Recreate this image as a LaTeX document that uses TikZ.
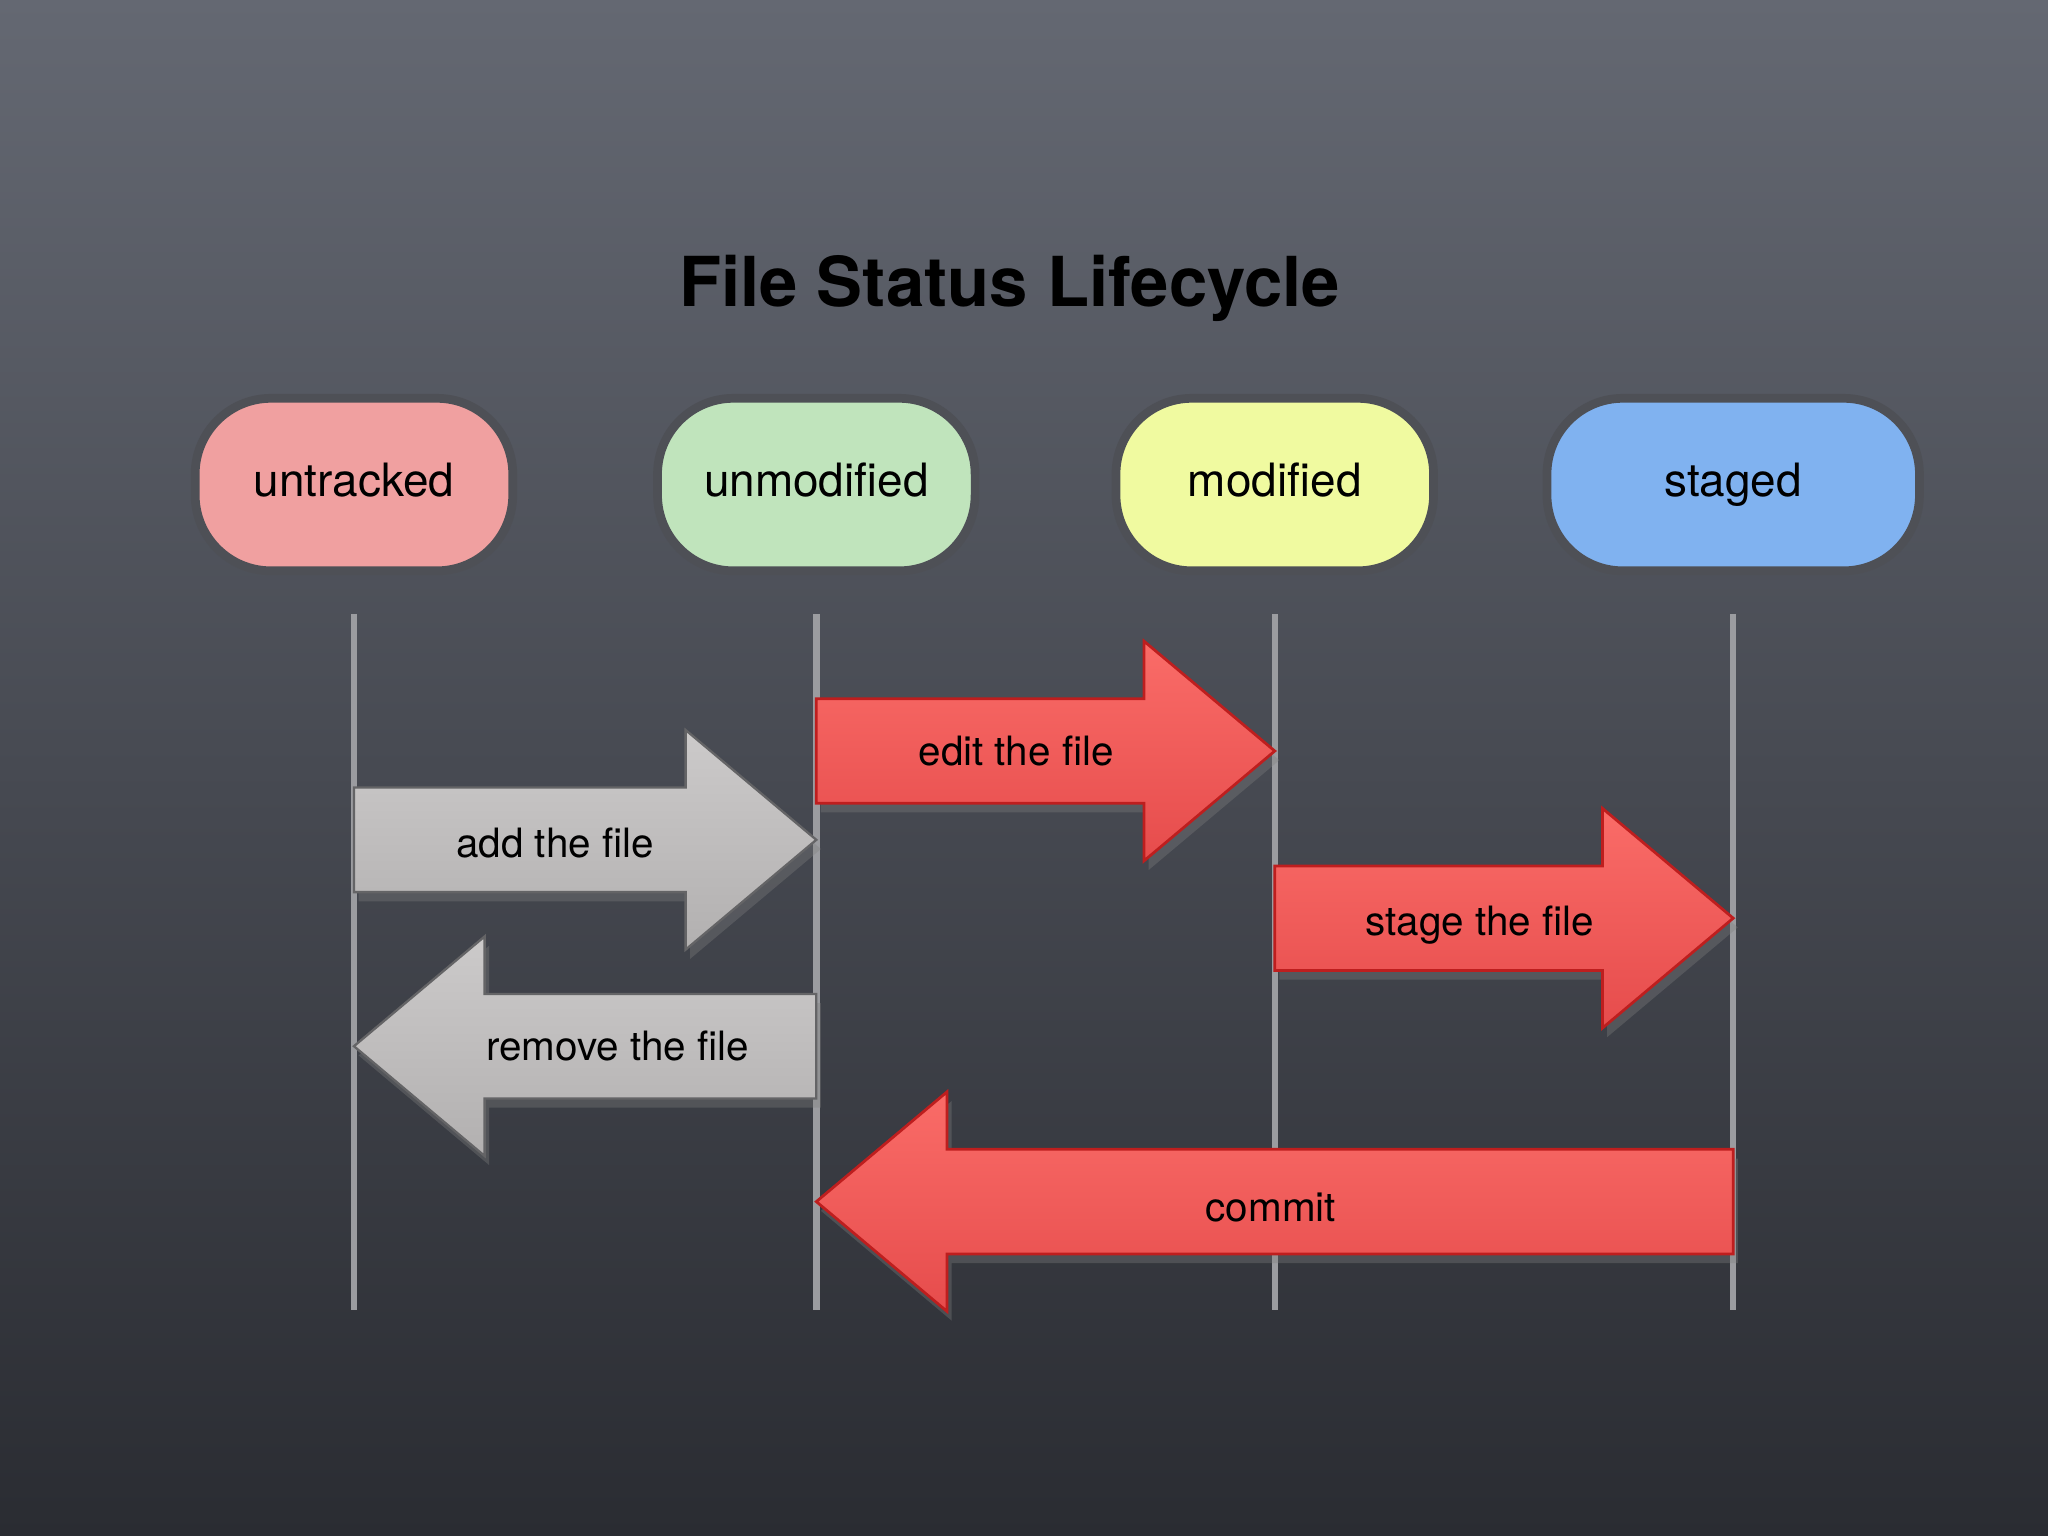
\documentclass[tikz,border=0pt]{standalone}
\usepackage{fontspec}
\setmainfont{TeX Gyre Heros}
\usetikzlibrary{calc,shadows}

\definecolor{boardtop}{RGB}{100,104,114}
\definecolor{boardmid}{RGB}{88,93,104}
\definecolor{boardbot}{RGB}{42,44,50}
\definecolor{statering}{RGB}{78,80,86}
\definecolor{untrackedcol}{RGB}{240,160,160}
\definecolor{unmodifiedcol}{RGB}{192,228,188}
\definecolor{modifiedcol}{RGB}{240,250,160}
\definecolor{stagedcol}{RGB}{128,178,240}
\definecolor{lifecol}{RGB}{155,156,160}
\definecolor{redtop}{RGB}{250,108,104}
\definecolor{redbot}{RGB}{230,76,76}
\definecolor{redline}{RGB}{190,30,30}
\definecolor{greytop}{RGB}{204,202,202}
\definecolor{greybot}{RGB}{178,176,176}
\definecolor{greyline}{RGB}{100,100,102}

\begin{document}
\begin{tikzpicture}[x=0.01cm, y=-0.01cm,
state/.style = {% the four file states
    draw=statering, line width=1.9pt, rounded corners=0.58cm,
    minimum width=2.43cm, minimum height=1.32cm,
    font=\fontsize{10pt}{12pt}\selectfont,
    text height=0.72em, text depth=0.2em,
            },
lifeline/.style = {draw=lifecol, line width=1.4pt},
fat/.style = {% block arrow from one lifeline to another
    to path={let \p1=(\tikztostart), \p2=(\tikztotarget),
                 \n1={sign(\x2-\x1)*1cm} in
      (\x1,\y1+0.4cm) -- (\x2-\n1,\y1+0.4cm) -- (\x2-\n1,\y1+0.84cm)
      -- (\x2,\y1) -- (\x2-\n1,\y1-0.84cm) -- (\x2-\n1,\y1-0.4cm)
      -- (\x1,\y1-0.4cm) -- cycle},
            },
redarrow/.style = {fat, draw=redline, line width=0.6pt,
    top color=redtop, bottom color=redbot,
    drop shadow={shadow xshift=1pt, shadow yshift=-2pt, opacity=0.35}},
greyarrow/.style = {fat, draw=greyline, line width=0.5pt,
    top color=greytop, bottom color=greybot,
    drop shadow={shadow xshift=1pt, shadow yshift=-2pt, opacity=0.35}},
lbl/.style = {% arrow labels
    font=\fontsize{8.8pt}{10pt}\selectfont,
    text height=0.72em, text depth=0.2em, inner sep=0pt,
            },
                        ]

  % chalkboard
  \shade[top color=boardtop, middle color=boardmid, bottom color=boardbot]
      (0,0) rectangle (1568,1176);

  \node[font=\fontsize{15pt}{18pt}\selectfont\bfseries, anchor=base]
      (title) at (773,235) {File Status Lifecycle};

  \node[state, fill=untrackedcol] (untracked) at (271,371) {untracked};
  \node[state, fill=unmodifiedcol] (unmodified) at (625,371) {unmodified};
  \node[state, fill=modifiedcol] (modified) at (976,371) {modified};
  \node[state, fill=stagedcol, minimum width=2.85cm] (staged) at (1327,371) {staged};

  \foreach \s in {untracked,unmodified,modified,staged}
    \draw[lifeline] (\s.south |- 0,470) -- (\s.south |- 0,1003);

  \draw[redarrow] (unmodified |- 0,575) to (modified |- 0,575);
  \draw[greyarrow] (untracked |- 0,643) to (unmodified |- 0,643);
  \draw[redarrow] (modified |- 0,703) to (staged |- 0,703);
  \draw[greyarrow] (unmodified |- 0,801) to (untracked |- 0,801);
  \draw[redarrow] (staged |- 0,920) to (unmodified |- 0,920);

  \node[lbl] (edit) at (778,577) {edit the file};
  \node[lbl] (add) at (425,647) {add the file};
  \node[lbl] (stage) at (1133,707) {stage the file};
  \node[lbl] (remove) at (473,803) {remove the file};
  \node[lbl] (commit) at (973,926) {commit};

\end{tikzpicture}
\end{document}
